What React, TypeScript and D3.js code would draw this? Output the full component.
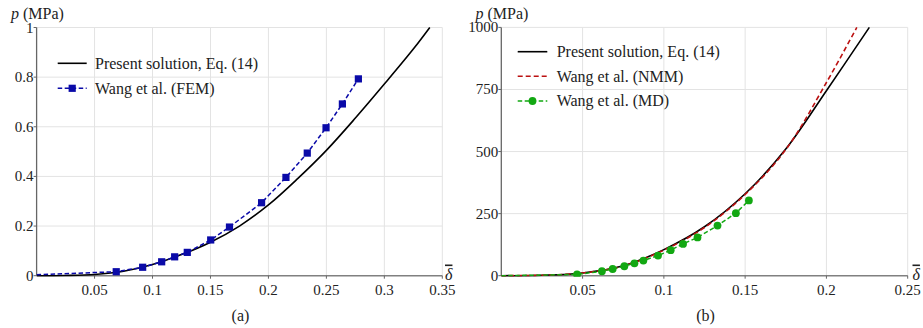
import React from "react";
import * as d3 from "d3";

// ---------- Data ----------
// Panel (a)
const solADelta = [0, 0.025, 0.05, 0.075, 0.1, 0.125, 0.15, 0.175, 0.2, 0.225, 0.25, 0.275, 0.3, 0.325, 0.3392];
const solAP = [0, 0.001, 0.005, 0.018, 0.045, 0.085, 0.135, 0.2, 0.285, 0.39, 0.505, 0.635, 0.772, 0.913, 1.0];
const femDelta = [0, 0.0687, 0.0915, 0.1079, 0.1191, 0.13, 0.1502, 0.1664, 0.1941, 0.2151, 0.2335, 0.2497, 0.2638, 0.2776];
const femP = [0.004, 0.016, 0.034, 0.056, 0.076, 0.094, 0.144, 0.196, 0.294, 0.396, 0.494, 0.596, 0.692, 0.793];
const xTicksA = [0.05, 0.1, 0.15, 0.2, 0.25, 0.3, 0.35];
const xTickLabelsA = ["0.05", "0.1", "0.15", "0.2", "0.25", "0.3", "0.35"];
const yTicksA = [0, 0.2, 0.4, 0.6, 0.8, 1];
const yTickLabelsA = ["0", "0.2", "0.4", "0.6", "0.8", "1"];

// Panel (b)
const solBDelta = [0, 0.025, 0.05, 0.075, 0.1, 0.125, 0.15, 0.175, 0.2, 0.2264];
const solBP = [0, 2, 11, 40, 105, 197, 330, 510, 745, 1000];
const nmmDelta = [0, 0.025, 0.05, 0.075, 0.1, 0.125, 0.15, 0.175, 0.2, 0.2187];
const nmmP = [0, 2, 11, 39, 103, 194, 327, 508, 778, 1000];
const mdDelta = [0, 0.0466, 0.0619, 0.0685, 0.0757, 0.0819, 0.0874, 0.0964, 0.1042, 0.1118, 0.1207, 0.133, 0.1443, 0.1523];
const mdP = [0, 5, 18, 27, 38, 50, 61, 81, 103, 128, 154, 202, 252, 303];
const xTicksB = [0.05, 0.1, 0.15, 0.2, 0.25];
const xTickLabelsB = ["0.05", "0.1", "0.15", "0.2", "0.25"];
const yTicksB = [0, 250, 500, 750, 1000];
const yTickLabelsB = ["0", "250", "500", "750", "1000"];

const legendA = ["Present solution, Eq. (14)", "Wang et al. (FEM)"];
const legendB = ["Present solution, Eq. (14)", "Wang et al. (NMM)", "Wang et al. (MD)"];

const FONT = "Liberation Serif, DejaVu Serif, serif";
const FS = 16; // labels, legend
const FT = 15; // tick labels
const BLUE = "#0a0aa8";
const RED = "#bb1111";
const GREEN = "#12a812";
const GRID = "#e3e3e3";
const TXT = "#222";

type PanelProps = {
  id: string;
  xDomain: [number, number];
  xRange: [number, number];
  yDomain: [number, number];
  yRange: [number, number];
  xTicks: number[];
  xLabels: string[];
  yTicks: number[];
  yLabels: string[];
  caption: string;
  children: (x: d3.ScaleLinear<number, number>, y: d3.ScaleLinear<number, number>) => React.ReactNode;
};

const txtStyle = { fontFamily: FONT, fontSize: FS };
const tickStyle = { fontFamily: FONT, fontSize: FT };

function Panel(p: PanelProps) {
  const x = d3.scaleLinear().domain(p.xDomain).range(p.xRange);
  const y = d3.scaleLinear().domain(p.yDomain).range(p.yRange);
  const [x0, x1] = p.xRange;
  const [y0, y1] = p.yRange;
  return (
    <g>
      <defs>
        <clipPath id={p.id}>
          <rect x={x0} y={y1 - 1} width={x1 - x0} height={y0 - y1 + 2} />
        </clipPath>
      </defs>
      {p.xTicks.map((t) => (
        <line key={"gx" + t} x1={x(t)} x2={x(t)} y1={y0} y2={y1} stroke={GRID} strokeWidth={1} />
      ))}
      {p.yTicks.filter((t) => t !== p.yDomain[0]).map((t) => (
        <line key={"gy" + t} x1={x0} x2={x1} y1={y(t)} y2={y(t)} stroke={GRID} strokeWidth={1} />
      ))}
      <line x1={x0} x2={x0} y1={y0} y2={y1} stroke="#666" strokeWidth={1.3} />
      <line x1={x0} x2={x1} y1={y0} y2={y0} stroke="#808080" strokeWidth={1.6} />
      {p.yTicks.map((t, i) => (
        <g key={"ty" + t}>
          <line x1={x0 - 3} x2={x0} y1={y(t)} y2={y(t)} stroke="#666" strokeWidth={1} />
          <text x={x0 - 3} y={y(t) + 5} textAnchor="end" style={tickStyle} fill={TXT}>
            {p.yLabels[i]}
          </text>
        </g>
      ))}
      {p.xTicks.map((t, i) => (
        <g key={"tx" + t}>
          <line x1={x(t)} x2={x(t)} y1={y0} y2={y0 + 3} stroke="#666" strokeWidth={1} />
          <text x={x(t)} y={294.5} textAnchor="middle" style={tickStyle} fill={TXT}>
            {p.xLabels[i]}
          </text>
        </g>
      ))}
      <g clipPath={`url(#${p.id})`}>{p.children(x, y)}</g>
      <text x={(x0 + x1) / 2 + 1} y={320.5} textAnchor="middle" style={txtStyle} fill={TXT}>
        {p.caption}
      </text>
    </g>
  );
}

function App() {
  const lineSmooth = (xs: number[], ys: number[], x: any, y: any) =>
    d3.line<number>().x((_, i) => x(xs[i])).y((_, i) => y(ys[i])).curve(d3.curveCatmullRom.alpha(0.5))(xs.map((_, i) => i)) || "";
  const lineLin = (xs: number[], ys: number[], x: any, y: any) =>
    d3.line<number>().x((_, i) => x(xs[i])).y((_, i) => y(ys[i]))(xs.map((_, i) => i)) || "";

  return (
    <svg width={923} height={328} style={{ position: "absolute", left: 0, top: 0, background: "#fff" }}>
      <Panel
        id="clipA"
        xDomain={[0, 0.35]}
        xRange={[36.6, 442.3]}
        yDomain={[0, 1]}
        yRange={[275.7, 27.5]}
        xTicks={xTicksA}
        xLabels={xTickLabelsA}
        yTicks={yTicksA}
        yLabels={yTickLabelsA}
        caption="(a)"
      >
        {(x, y) => (
          <g>
            <path d={lineSmooth(solADelta, solAP, x, y)} fill="none" stroke="#000" strokeWidth={1.6} />
            <path d={lineLin(femDelta, femP, x, y)} fill="none" stroke={BLUE} strokeWidth={1.5} strokeDasharray="4.5,2.5" />
            {femDelta.map((d, i) =>
              i === 0 ? null : (
                <rect key={i} x={x(d) - 3.6} y={y(femP[i]) - 3.6} width={7.2} height={7.2} fill={BLUE} />
              )
            )}
          </g>
        )}
      </Panel>
      <Panel
        id="clipB"
        xDomain={[0, 0.25]}
        xRange={[501.3, 907.7]}
        yDomain={[0, 1000]}
        yRange={[275.7, 27.4]}
        xTicks={xTicksB}
        xLabels={xTickLabelsB}
        yTicks={yTicksB}
        yLabels={yTickLabelsB}
        caption="(b)"
      >
        {(x, y) => (
          <g>
            <path d={lineSmooth(solBDelta, solBP, x, y)} fill="none" stroke="#000" strokeWidth={1.6} />
            <path d={lineSmooth(nmmDelta, nmmP, x, y)} fill="none" stroke={RED} strokeWidth={1.6} strokeDasharray="5,3" />
            <path d={lineLin(mdDelta, mdP, x, y)} fill="none" stroke={GREEN} strokeWidth={1.5} strokeDasharray="4.5,2.5" />
            {mdDelta.map((d, i) =>
              i === 0 ? null : <circle key={i} cx={x(d)} cy={y(mdP[i])} r={3.9} fill={GREEN} />
            )}
          </g>
        )}
      </Panel>

      {[11, 475.5].map((xx, k) => (
        <text key={"yt" + k} x={xx} y={18.5} style={txtStyle} fill={TXT}>
          <tspan fontStyle="italic">p</tspan> (MPa)
        </text>
      ))}
      {[445, 912.5].map((xx, k) => (
        <text key={"xt" + k} x={xx} y={279.5} style={{ ...txtStyle, textDecoration: "overline" }} fontStyle="italic" fill={TXT}>
          δ
        </text>
      ))}

      <g>
        <line x1={57.7} x2={86.7} y1={63.3} y2={63.3} stroke="#000" strokeWidth={1.6} />
        <text x={95} y={68.6} style={txtStyle} fill={TXT}>{legendA[0]}</text>
        <line x1={57.7} x2={86.7} y1={88.3} y2={88.3} stroke={BLUE} strokeWidth={1.5} strokeDasharray="4.5,2.5" />
        <rect x={72.2 - 3.6} y={88.3 - 3.6} width={7.2} height={7.2} fill={BLUE} />
        <text x={95} y={93.6} style={txtStyle} fill={TXT}>{legendA[1]}</text>
      </g>
      <g>
        <line x1={517.7} x2={547.3} y1={51.7} y2={51.7} stroke="#000" strokeWidth={1.6} />
        <text x={556.7} y={57} style={txtStyle} fill={TXT}>{legendB[0]}</text>
        <line x1={517.7} x2={547.3} y1={76.3} y2={76.3} stroke={RED} strokeWidth={1.6} strokeDasharray="5,3" />
        <text x={556.7} y={81.6} style={txtStyle} fill={TXT}>{legendB[1]}</text>
        <line x1={517.7} x2={547.3} y1={101} y2={101} stroke={GREEN} strokeWidth={1.5} strokeDasharray="4.5,2.5" />
        <circle cx={532.5} cy={101} r={3.9} fill={GREEN} />
        <text x={556.7} y={106.3} style={txtStyle} fill={TXT}>{legendB[2]}</text>
      </g>
    </svg>
  );
}

export default App;
